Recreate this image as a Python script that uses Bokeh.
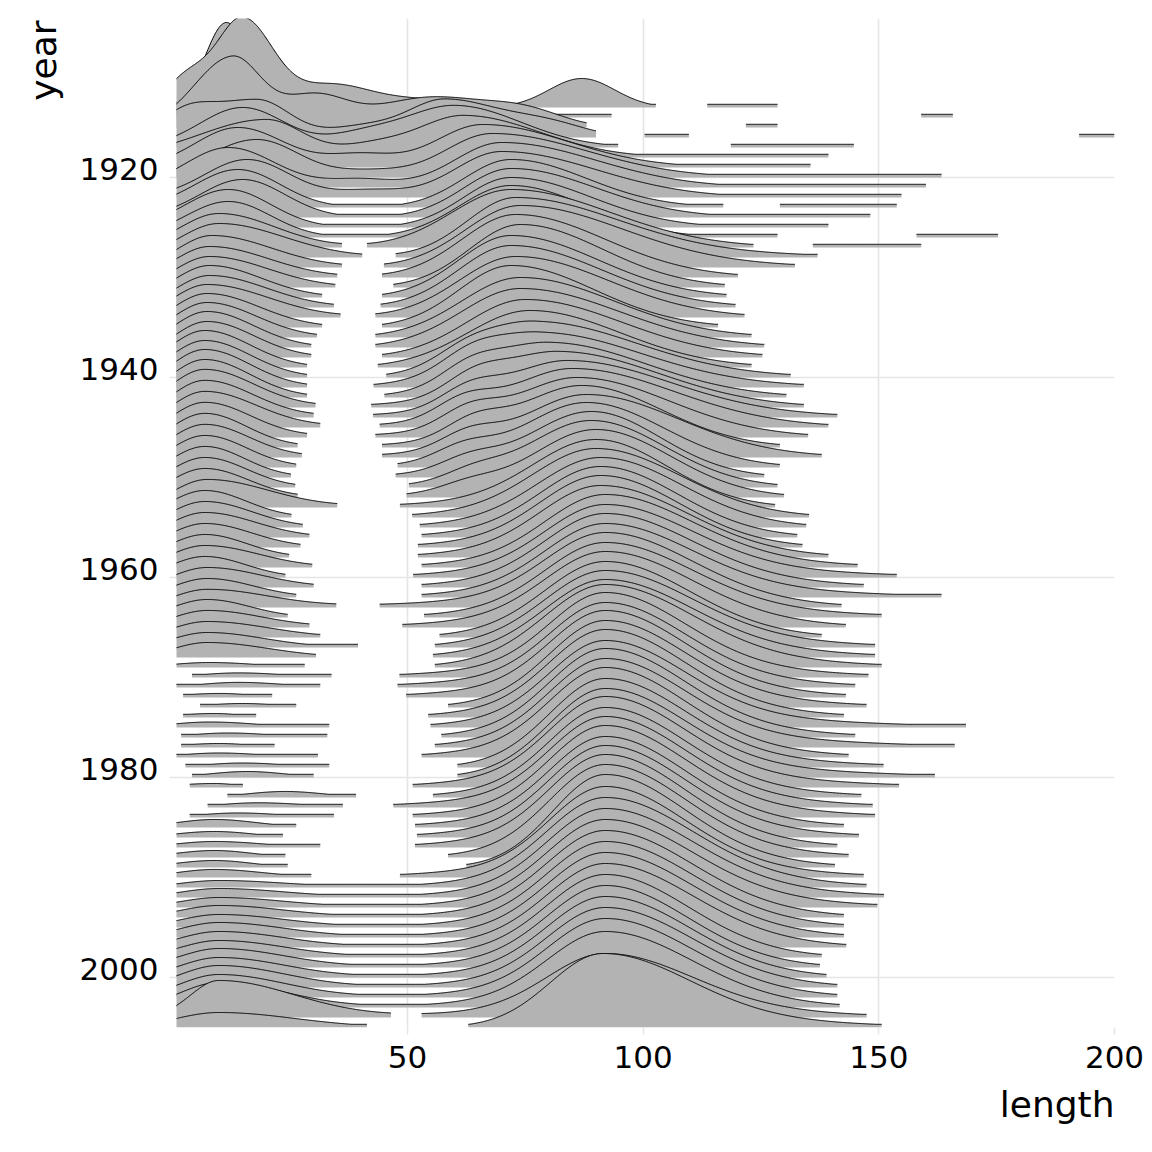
import numpy as np
from bokeh.plotting import figure
from bokeh.models import Range1d, FixedTicker, Title
from bokeh.embed import file_html
from bokeh.resources import INLINE

# ---------------- data ----------------
X_TICKS = [50, 100, 150, 200]
Y_TICKS = [1920, 1940, 1960, 1980, 2000]
Y_TICK_LABELS = ["1920", "1940", "1960", "1980", "2000"]
YEARS = list(range(1913, 2006))

# early years 1913-1926: right end of the main ridge segment
EARLY_END = [102.7, 93.3, 88.0, 90.0, 94.7, 139.3, 135.5, 163.3, 160.0, 154.8,
             117.0, 148.2, 139.3, 128.5]

# bumps (year, centre, left sd, right sd, height in rows)
EB_YEAR = [1913, 1913, 1913,
           1914, 1914, 1914, 1914,
           1915, 1915, 1915, 1915,
           1916, 1916, 1916, 1916, 1916,
           1917, 1917, 1917, 1918, 1918, 1918, 1919, 1919, 1919,
           1920, 1920, 1920, 1921, 1921, 1921,
           1922, 1922, 1922, 1923, 1923, 1924, 1924, 1925, 1925, 1926, 1926, 1926,
           1927,
           1940, 1941, 1942, 1943, 1944, 1945, 1946, 1947, 1948, 1949, 1950, 1951, 1952]
EB_MU = [11.6, 87, 121,
         15, 3, 33, 52,
         12.8, 30, 55, 75,
         3, 18, 40, 58, 80,
         15, 40, 60, 20, 42, 62, 14, 40, 66,
         18, 42, 68, 12, 40, 70,
         16, 42, 70, 14, 72, 15, 72, 12, 72, 12, 72, 166,
         148,
         62, 63, 63, 64, 63, 62, 63, 64, 63, 62, 63, 64, 63]
EB_SDL = [4.5, 7, 4,
          5.5, 5, 8, 14,
          8, 7, 12, 8,
          5, 12, 7, 8, 8,
          9, 7, 11, 14, 7, 10, 9, 7, 10,
          10, 7, 10, 9, 7, 10,
          9, 7, 10, 9, 10, 9, 10, 9, 10, 9, 11, 5,
          6,
          6, 6, 6, 6, 6, 6, 6, 6, 6, 6, 6, 6, 6]
EB_SDR = [4.7, 7, 4,
          6.5, 5, 8, 14,
          6, 7, 12, 8,
          5, 7, 7, 12, 8,
          9, 7, 14, 8, 7, 16, 10, 7, 18,
          9, 7, 20, 10, 7, 20,
          9, 7, 20, 9, 16, 9, 18, 9, 17, 9, 16, 5,
          6,
          6, 6, 6, 6, 6, 6, 6, 6, 6, 6, 6, 6, 6]
EB_H = [8.5, 2.9, 0.15,
        9.6, 3.8, 2.5, 1.8,
        7.0, 3.0, 3.0, 1.5,
        1.5, 3.8, 1.0, 3.8, 1.2,
        4.0, 1.0, 4.2, 3.8, 1.0, 4.2, 4.0, 1.2, 4.3,
        3.8, 0.6, 4.4, 4.0, 0.8, 4.5,
        3.8, 0.7, 4.6, 3.8, 4.8, 3.8, 4.9, 3.8, 5.0, 3.6, 5.2, 0.25,
        0.2,
        1.0, 1.3, 1.5, 1.6, 1.7, 1.8, 1.8, 1.7, 1.6, 1.4, 1.2, 1.0, 0.8]

# isolated tail pieces (year, from, to)
XS_YEAR = [1913, 1914, 1915, 1916, 1916, 1917, 1923, 1926, 1927]
XS_LO = [113.6, 159.0, 121.8, 100.3, 192.5, 118.6, 129.0, 158.0, 136.0]
XS_HI = [128.5, 165.7, 128.5, 109.7, 200.0, 144.7, 153.8, 175.3, 159.0]

# years 1927-2005: short films part and feature films part
S_START = [1, 1, 1, 1, 1, 1, 1, 1, 1, 1,
           1, 1, 1, 1, 1, 1, 1, 1, 1, 1,
           1, 1, 1, 1, 1, 1, 1, 1, 1, 1,
           1, 1, 1, 1, 1, 1, 1, 1, 1, 1,
           1, 1, 1, 4.3, 1, 2.4, 6.0, 2.4, 1, 2.0,
           2.0, 1, 2.9, 4.3, 3.8, 11.8, 7.6, 3.8, 1, 1,
           1, 1, 1, 1, 1, 1, 1, 1, 1, 1,
           1, 1, 1, 1, 1, 1, 1, 1, 1]
S_MU = [10, 10, 8.5, 8, 8, 8, 8, 7.5, 7.5, 7.5,
        7.5, 7.5, 7, 7, 7, 7, 7, 7, 7, 7,
        7, 7, 7, 7, 7, 7, 7.5, 7, 7, 7,
        7, 7, 7, 7, 7.5, 7.5, 7.5, 7.5, 7.5, 7.5,
        7.5, 7.5, 8, 14, 14, 10, 15, 9, 8, 12,
        10, 10, 15, 16, 9, 24, 18, 14, 9, 9,
        9, 9, 9, 9, 10, 10, 10, 10, 10, 10,
        10, 10, 10, 10, 10, 10, 10, 10, 10]
S_SDL = [8, 8, 7, 7, 7, 7, 7, 7, 7, 7,
         7, 7, 7, 7, 7, 7, 7, 7, 7, 7,
         7, 7, 7, 7, 7, 7, 7, 7, 7, 7,
         7, 7, 7, 7, 7, 7, 7, 7, 7, 7,
         7, 7, 8, 8, 8, 8, 8, 8, 8, 8,
         8, 8, 8, 8, 8, 8, 8, 8, 8, 8,
         8, 8, 8, 8, 8, 8, 8, 8, 8, 8,
         8, 8, 8, 8, 8, 8, 8, 6, 9]
S_H = [3.4, 3.4, 3.2, 3.1, 3.1, 3.2, 3.2, 3.3, 3.4, 3.5,
       3.6, 3.6, 3.7, 3.7, 3.8, 3.8, 3.8, 3.7, 3.6, 3.5,
       3.4, 3.3, 3.2, 3.1, 3.0, 2.9, 2.8, 2.7, 2.6, 2.5,
       2.4, 2.3, 2.2, 2.1, 2.0, 1.9, 1.8, 1.8, 1.7, 1.6,
       1.5, 1.5, 0.5, 0.45, 0.5, 0.4, 0.4, 0.4, 0.55, 0.45,
       0.4, 0.45, 0.45, 0.6, 0.4, 0.6, 0.45, 0.45, 0.8, 0.6,
       0.6, 0.7, 0.7, 0.8, 0.7, 0.9, 1.0, 1.2, 1.3, 1.5,
       1.6, 1.7, 1.9, 2.0, 2.2, 2.3, 2.5, 3.7, 1.5]
S_SDR_MAX = [13, 15, 13, 13, 13, 13, 13, 13, 13, 13,
             13, 13, 13, 13, 13, 13, 13, 13, 13, 13,
             13, 13, 13, 13, 13, 13, 13, 13, 13, 13,
             13, 13, 13, 13, 13, 13, 13, 13, 13, 13,
             12, 13, 10, 9, 9, 7, 8, 6, 10, 9,
             7, 9, 9, 8, 5, 8, 9, 9, 9, 8,
             10, 8, 8, 10, 14, 14, 14, 14, 14, 14,
             14, 14, 14, 14, 14, 14, 14, 16, 16]
S_END = [36.1, 40.4, 36.1, 35.1, 34.7, 31.9, 34.4, 35.8, 31.9, 30.8,
         29.6, 29.6, 28.7, 28.7, 28.7, 28.7, 30.5, 30.1, 31.5, 28.7,
         26.7, 27.6, 26.4, 25.3, 26.2, 26.7, 35.1, 25.4, 27.8, 29.2,
         27.3, 24.9, 29.8, 24.1, 30.1, 26.4, 34.9, 24.6, 29.2, 31.5,
         39.5, 30.6, 28.2, 33.9, 31.5, 21.3, 26.4, 17.9, 33.4, 33.0,
         21.8, 31.0, 33.4, 30.1, 15.1, 39.1, 36.3, 34.4, 26.4, 23.6,
         31.5, 24.1, 24.6, 29.6, 45, 45, 45, 45, 45, 45,
         45, 45, 45, 45, 45, 45, 45, 46.5, 41.4]
F_START = [41.4, 47.5, 45.0, 44.6, 47.0, 44.6, 44.3, 43.2, 44.6, 43.2,
           43.2, 44.6, 43.7, 45.5, 42.8, 45.1, 42.3, 42.7, 44.1, 43.2,
           44.6, 44.6, 47.9, 47.5, 50.3, 49.8, 48.4, 51.0, 52.6, 53.0,
           52.2, 52.2, 53.0, 51.2, 53.0, 53.0, 44.1, 53.5, 48.9, 56.8,
           55.8, 55.4, 55.8, 48.3, 47.9, 49.7, 58.6, 54.4, 54.9, 57.2,
           55.8, 53.0, 60.6, 60.6, 51.1, 55.4, 47.0, 51.1, 51.6, 52.0,
           51.6, 58.6, 62.5, 48.4, 45, 45, 45, 45, 45, 45,
           45, 45, 45, 45, 45, 45, 45, 53.0, 62.9]
GAP = [1] * 64 + [0] * 13 + [1, 1]
F_MU = [72, 73, 74, 73, 74, 72, 72, 73, 72, 74,
        74, 75, 76, 77, 78, 80, 82, 84, 85, 86,
        87, 88, 88, 89, 89, 90, 90, 90, 91, 91,
        91, 91, 92, 92, 92, 92, 92, 92, 92, 92,
        92, 92, 92, 92, 92, 92, 92, 92, 92, 92,
        92, 92, 92, 92, 92, 92, 92, 92, 92, 92,
        92, 92, 92, 92, 92, 92, 92, 92, 92, 92,
        92, 92, 92, 92, 92, 92, 92, 92, 91.5]
F_H = [5.8, 6.0, 6.2, 6.3, 6.3, 6.2, 6.2, 6.1, 6.2, 6.0,
       5.9, 5.8, 5.7, 5.6, 5.5, 5.5, 5.6, 5.7, 5.9, 6.0,
       6.2, 6.3, 6.5, 6.6, 6.7, 6.8, 6.8, 6.9, 7.0, 7.1,
       7.2, 7.2, 7.3, 7.3, 7.4, 7.4, 7.5, 7.5, 7.6, 7.6,
       7.7, 7.8, 8.3, 8.5, 8.5, 8.7, 8.7, 8.8, 8.7, 8.9,
       8.9, 9.0, 8.9, 8.9, 9.1, 9.0, 9.1, 9.2, 9.1, 9.2,
       9.3, 9.3, 9.3, 9.1, 9.0, 8.9, 8.8, 8.7, 8.6, 8.5,
       8.4, 8.3, 8.2, 8.1, 8.0, 7.9, 7.6, 6.4, 7.4]
# width of the central part of the feature-film hump (left / right)
F_SDL_MAX = [13] * 29 + [12.5] * 14 + [11.5] * 21 + [12] * 15
F_SDR_MAX = [21] * 19 + [19] * 10 + [18] * 14 + [16.5] * 21 + [18] * 15
F_END = [123.4, 137.0, 132.2, 120.1, 117.3, 117.7, 119.6, 121.5, 115.9, 123.0,
         125.7, 125.3, 123.0, 131.3, 134.1, 130.4, 134.1, 141.2, 139.3, 135.0,
         129.0, 137.9, 129.0, 125.7, 128.5, 129.9, 128.0, 135.2, 134.6, 132.7,
         133.8, 139.3, 145.5, 153.8, 146.8, 163.3, 142.1, 150.6, 143.0, 137.9,
         149.2, 149.2, 150.6, 147.8, 145.0, 143.0, 147.4, 142.6, 168.5, 145.0,
         166.1, 143.6, 151.0, 161.9, 154.3, 146.3, 148.7, 149.2, 142.6, 145.8,
         141.2, 143.6, 140.7, 146.8, 147.4, 151.1, 149.7, 142.6, 142.6, 142.6,
         143.1, 137.9, 137.5, 138.9, 141.2, 141.2, 141.7, 147.4, 150.6]

CUT = 0.3      # rel_min_height 0.03 of the tallest ridge (10 rows)
FLOOR = 0.32
TAIL_W = 0.15  # share of the broad tail under the feature-film hump
X = np.linspace(1, 200, 1195)


def split_gauss(x, mu, sdl, sdr, h):
    sd = np.where(x < mu, sdl, sdr)
    return h * np.exp(-0.5 * ((x - mu) / sd) ** 2)


def core_sd(h, delta, cap):
    """central width, kept narrow enough to fall under the cut-off at delta"""
    lim = 0.95 * delta / np.sqrt(2 * np.log((1 - TAIL_W) * h / CUT))
    return min(cap, lim)


def tail_sd(h, delta, sd_core):
    """broad-tail width so that the hump meets the cut-off at distance delta"""
    core = (1 - TAIL_W) * np.exp(-0.5 * (delta / sd_core) ** 2)
    rhs = (CUT / h - core) / TAIL_W
    if rhs <= 1e-4:
        return sd_core
    if rhs >= 1:
        return 38.0
    return max(min(delta / np.sqrt(-2 * np.log(rhs)), 38.0), sd_core)


def ridge(year):
    h = np.zeros_like(X)
    segs = []
    if year < 1927:
        segs.append((1.0, EARLY_END[year - 1913]))
    else:
        i = year - 1927
        sh, smu = S_H[i], S_MU[i]
        r = sh / CUT
        if r > 1.6:
            sdr = min(S_SDR_MAX[i], (S_END[i] - smu) / np.sqrt(2 * np.log(r)))
        else:
            sdr = S_SDR_MAX[i]
        h += split_gauss(X, smu, S_SDL[i], sdr, sh)
        fh, fmu = F_H[i], F_MU[i]
        dr = F_END[i] - fmu
        cr = core_sd(fh, dr, F_SDR_MAX[i])
        wr = tail_sd(fh, dr, cr)
        if GAP[i]:
            dl = fmu - F_START[i]
            cl = core_sd(fh, dl, F_SDL_MAX[i])
            wl = tail_sd(fh, dl, cl)
        else:
            cl, wl = F_SDL_MAX[i], 22.0
        h += split_gauss(X, fmu, cl, cr, fh * (1 - TAIL_W))
        h += split_gauss(X, fmu, wl, wr, fh * TAIL_W)
        if GAP[i]:
            segs += [(S_START[i], S_END[i]), (F_START[i], F_END[i])]
        else:
            segs.append((S_START[i], F_END[i]))
    for yy, mu, sl, sr, hh in zip(EB_YEAR, EB_MU, EB_SDL, EB_SDR, EB_H):
        if yy == year:
            h += split_gauss(X, mu, sl, sr, hh)
    for yy, lo, hi in zip(XS_YEAR, XS_LO, XS_HI):
        if yy == year:
            segs.append((lo, hi))
    return h, segs


FONT = "DejaVu Sans"
TICK_SIZE = "31px"
TITLE_SIZE = "36px"
PX_PER_UNIT = 4.7136
X_START = 1 - 7 / PX_PER_UNIT   # grid lines run 7px left of the ridges

p = figure(width=1144, height=1136, output_backend="svg", toolbar_location=None,
           x_range=Range1d(X_START, 200), y_range=Range1d(2005, 1904.1),
           min_border_left=169, min_border_right=30, min_border_top=18,
           min_border_bottom=109)
p.outline_line_color = None
p.background_fill_color = "white"
p.border_fill_color = "white"

for ax in (p.xaxis[0], p.yaxis[0]):
    ax.axis_line_color = None
    ax.minor_tick_line_color = None
    ax.major_tick_in = 0
    ax.major_label_text_font = FONT
    ax.major_label_text_font_size = TICK_SIZE
    ax.major_label_text_color = "black"

p.xaxis.ticker = FixedTicker(ticks=X_TICKS)
p.xaxis.major_tick_line_color = "#E5E5E5"
p.xaxis.major_tick_line_width = 1.5
p.xaxis.major_tick_out = 7
p.xaxis.major_label_standoff = 11

# y labels sit just above their grid line (as in the reference)
y_label_pos = [t - 0.875 for t in Y_TICKS]
p.yaxis.ticker = FixedTicker(ticks=y_label_pos)
p.yaxis.major_label_overrides = {pos: lab for pos, lab in zip(y_label_pos, Y_TICK_LABELS)}
p.yaxis.major_tick_line_color = None
p.yaxis.major_tick_out = 0
p.yaxis.major_label_standoff = 11

p.xgrid.ticker = FixedTicker(ticks=X_TICKS)
p.ygrid.ticker = FixedTicker(ticks=Y_TICKS)
for g in (p.xgrid[0], p.ygrid[0]):
    g.grid_line_color = "#E5E5E5"
    g.grid_line_width = 1.6

for year in YEARS:
    h, segs = ridge(year)
    pxs, pys, lxs, lys = [], [], [], []
    for lo, hi in segs:
        m = (X > lo) & (X < hi)
        xs = np.concatenate([[lo], X[m], [hi]])
        hs = np.maximum(np.interp(xs, X, h), FLOOR)
        top = year - hs
        pxs.append(list(np.concatenate([xs, xs[::-1]])))
        pys.append(list(np.concatenate([top, np.full(len(xs), float(year))])))
        lxs.append(list(xs))
        lys.append(list(top))
    p.patches(pxs, pys, fill_color="#B3B3B3", line_color=None)
    p.multi_line(lxs, lys, line_color="black", line_width=1)

p.add_layout(Title(text="year", align="right", offset=2, standoff=25,
                   text_font=FONT, text_font_size=TITLE_SIZE, text_font_style="normal",
                   text_color="black"), "left")
p.add_layout(Title(text="length", align="right", standoff=23,
                   text_font=FONT, text_font_size=TITLE_SIZE, text_font_style="normal",
                   text_color="black"), "below")

open("out.html", "w").write(file_html(p, INLINE))
